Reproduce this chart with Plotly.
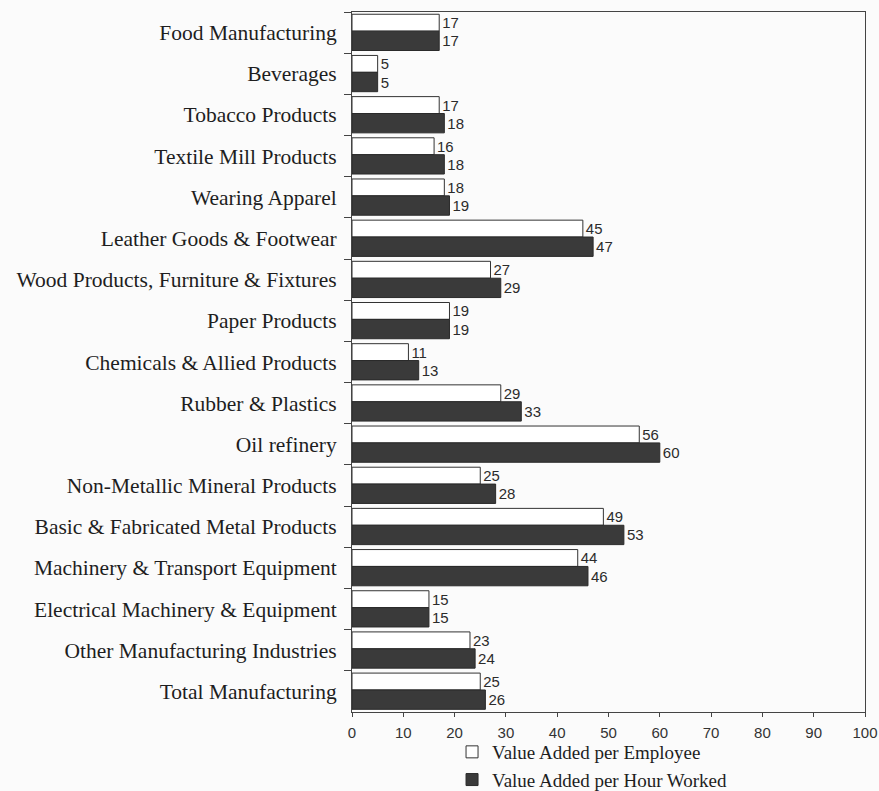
import plotly.graph_objects as go

industries = [
    "Food Manufacturing",
    "Beverages",
    "Tobacco Products",
    "Textile Mill Products",
    "Wearing Apparel",
    "Leather Goods & Footwear",
    "Wood Products, Furniture & Fixtures",
    "Paper Products",
    "Chemicals & Allied Products",
    "Rubber & Plastics",
    "Oil refinery",
    "Non-Metallic Mineral Products",
    "Basic & Fabricated Metal Products",
    "Machinery & Transport Equipment",
    "Electrical Machinery & Equipment",
    "Other Manufacturing Industries",
    "Total Manufacturing",
]
per_employee = [17, 5, 17, 16, 18, 45, 27, 19, 11, 29, 56, 25, 49, 44, 15, 23, 25]
per_hour = [17, 5, 18, 18, 19, 47, 29, 19, 13, 33, 60, 28, 53, 46, 15, 24, 26]
x_ticks = [0, 10, 20, 30, 40, 50, 60, 70, 80, 90, 100]

serif = "Liberation Serif, Times New Roman, serif"
sans = "Liberation Sans, Arial, sans-serif"
ink = "#2b2b2b"

fig = go.Figure()
fig.add_trace(go.Bar(
    name="Value Added per Employee",
    y=industries, x=per_employee, orientation="h",
    marker=dict(color="#ffffff", line=dict(color="#333333", width=1)),
    offset=-0.445, width=0.41,
    text=per_employee, textposition="outside",
    textfont=dict(family=sans, size=15, color=ink),
    cliponaxis=False,
))
fig.add_trace(go.Bar(
    name="Value Added per Hour Worked",
    y=industries, x=per_hour, orientation="h",
    marker=dict(color="#3a3a3a", line=dict(color="#2a2a2a", width=1)),
    offset=-0.035, width=0.47,
    text=per_hour, textposition="outside",
    textfont=dict(family=sans, size=15, color=ink),
    cliponaxis=False,
))

fig.update_layout(
    width=879, height=791,
    barmode="overlay",
    paper_bgcolor="#fbfbfb",
    plot_bgcolor="#fbfbfb",
    margin=dict(l=352, r=14, t=12, b=79, autoexpand=False),
    showlegend=True,
    legend=dict(
        orientation="v",
        x=0.195, xref="paper", xanchor="left",
        y=-0.03, yanchor="top",
        font=dict(family=serif, size=19, color="#1e1e1e"),
        bgcolor="rgba(0,0,0,0)",
        tracegroupgap=0,
        itemwidth=30,
    ),
    xaxis=dict(
        range=[0, 100],
        tickvals=x_ticks,
        ticks="outside", ticklen=4, tickcolor="#444",
        ticklabelstandoff=3,
        showgrid=False, zeroline=False,
        showline=True, linecolor="#444", linewidth=1, mirror=True,
        tickfont=dict(family=sans, size=15, color="#333"),
    ),
    yaxis=dict(
        autorange="reversed",
        tickson="boundaries",
        ticks="outside", ticklen=7, tickcolor="#444",
        showgrid=False,
        showline=True, linecolor="#444", linewidth=1, mirror=True,
        tickfont=dict(family=serif, size=21.5, color="#1e1e1e"),
        ticklabelstandoff=10,
    ),
)

fig.write_html("out.html")
